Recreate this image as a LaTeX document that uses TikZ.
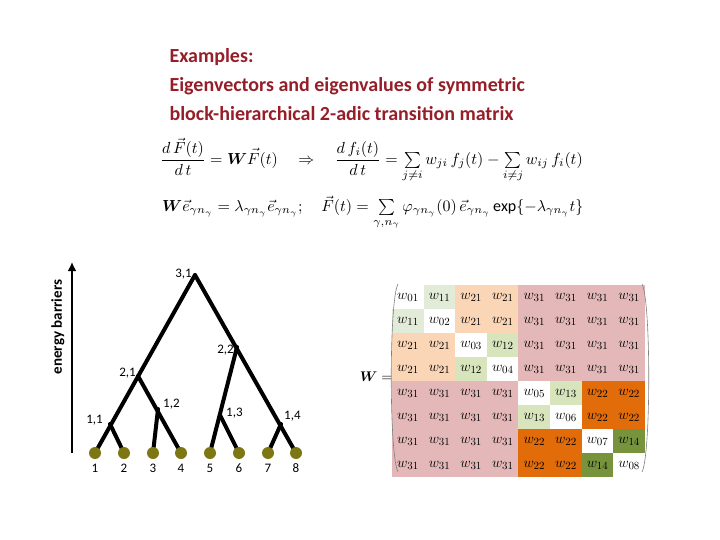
\documentclass[tikz,border=0pt]{standalone}
\usepackage{fontspec}
\setmainfont{Carlito}
\newfontfamily\serifm{Liberation Serif}
\usepackage{amsmath}
\usetikzlibrary{calc,arrows.meta}
\begin{document}
\begin{tikzpicture}[x=1pt,y=-1pt,
 br/.style={line width=4pt,line cap=round},
 leaf/.style={circle,fill=olive!85!black,minimum size=12pt,inner sep=0pt},
 lab/.style={font=\fontsize{13}{13}\selectfont,inner sep=1pt},
 ttlst/.style={anchor=west,text=ttl,font=\bfseries\fontsize{20}{20}\selectfont},
 cell/.style={minimum width=29pt,minimum height=22pt,inner sep=0pt,font=\serifm\fontsize{15}{15}\selectfont}]
\useasboundingbox (0,0) rectangle (720,540);
\definecolor{ttl}{RGB}{150,30,40}
\definecolor{lg}{RGB}{226,234,216}
\definecolor{pe}{RGB}{250,213,182}
\definecolor{pk}{RGB}{228,184,184}
\definecolor{mg}{RGB}{215,228,188}
\definecolor{og}{RGB}{226,107,10}
\definecolor{dg}{RGB}{119,147,60}
\node[ttlst] (t1) at (166,57) {Examples:};
\node[ttlst] (t2) at (166,86) {Eigenvectors and eigenvalues of symmetric};
\node[ttlst] (t3) at (166,114) {block-hierarchical 2-adic transition matrix};
\node[anchor=west,inner sep=0pt] (e1) at (160,160) {\scalebox{1.6}{$\dfrac{d\,\vec F(t)}{d\,t}=\boldsymbol{W}\vec F(t)\quad\Rightarrow\quad\dfrac{d\,f_i(t)}{d\,t}=\sum\limits_{j\neq i}w_{ji}\,f_j(t)-\sum\limits_{i\neq j}w_{ij}\,f_i(t)$}};
\node[anchor=west,inner sep=0pt] (e2) at (162,213) {\scalebox{1.6}{$\boldsymbol{W}\vec e_{\gamma n_\gamma}=\lambda_{\gamma n_\gamma}\vec e_{\gamma n_\gamma};\quad \vec F(t)=\sum\limits_{\gamma,n_\gamma}\varphi_{\gamma n_\gamma}(0)\,\vec e_{\gamma n_\gamma}\exp\{-\lambda_{\gamma n_\gamma}t\}$}};
% tree
\coordinate (r) at (195,275);
\coordinate (a21) at (138,376);
\coordinate (a22) at (237,347);
\coordinate (a11) at (110,424);
\coordinate (a12) at (158,409);
\coordinate (a13) at (220,415);
\coordinate (a14) at (281,424);
\foreach \i/\x in {1/95,2/124,3/153,4/181,5/210,6/239,7/268,8/296}{
 \coordinate (l\i) at (\x,453);
}
\draw[br] (r) -- (l1);
\draw[br] (r) -- (l8);
\draw[br] (a21) -- (l4);
\draw[br] (a11) -- (l2);
\draw[br] (a12) -- (l3);
\draw[br] (a22) -- (l5);
\draw[br] (a13) -- (l6);
\draw[br] (a14) -- (l7);
\foreach \i in {1,...,8}{
 \node[leaf] (n\i) at (l\i) {};
 \node[lab] (t\i) at ($(l\i)+(0,15)$) {\i};
}
\node[lab,anchor=east] (L31) at (193,274) {3,1};
\node[lab,anchor=east] (L22) at (235,350) {2,2};
\node[lab,anchor=east] (L21) at (137,373) {2,1};
\node[lab,anchor=east] (L11) at (104,420) {1,1};
\node[lab,anchor=west] (L12) at (162,404) {1,2};
\node[lab,anchor=west] (L13) at (225,413) {1,3};
\node[lab,anchor=west] (L14) at (283,416) {1,4};
\coordinate (ab) at (72,453);
\coordinate (at) at (72,262);
\draw[line width=2.5pt,-{Latex[length=9pt,width=9pt]}] (ab) -- (at);
\node[rotate=90,font=\bfseries\fontsize{15}{15}\selectfont] (eb) at (58,327) {energy barriers};
% matrix
\foreach \r/\c/\col/\t in {
1/1/white/01,1/2/lg/11,1/3/pe/21,1/4/pe/21,1/5/pk/31,1/6/pk/31,1/7/pk/31,1/8/pk/31,
2/1/lg/11,2/2/white/02,2/3/pe/21,2/4/pe/21,2/5/pk/31,2/6/pk/31,2/7/pk/31,2/8/pk/31,
3/1/pe/21,3/2/pe/21,3/3/white/03,3/4/mg/12,3/5/pk/31,3/6/pk/31,3/7/pk/31,3/8/pk/31,
4/1/pe/21,4/2/pe/21,4/3/mg/12,4/4/white/04,4/5/pk/31,4/6/pk/31,4/7/pk/31,4/8/pk/31,
5/1/pk/31,5/2/pk/31,5/3/pk/31,5/4/pk/31,5/5/white/05,5/6/mg/13,5/7/og/22,5/8/og/22,
6/1/pk/31,6/2/pk/31,6/3/pk/31,6/4/pk/31,6/5/mg/13,6/6/white/06,6/7/og/22,6/8/og/22,
7/1/pk/31,7/2/pk/31,7/3/pk/31,7/4/pk/31,7/5/og/22,7/6/og/22,7/7/white/07,7/8/dg/14,
8/1/pk/31,8/2/pk/31,8/3/pk/31,8/4/pk/31,8/5/og/22,8/6/og/22,8/7/dg/14,8/8/white/08}{
 \fill[\col] ({408+31.6*(\c-1)-16},{297+24*(\r-1)-12}) rectangle ++(32,24);
 \node[cell] (m\r\c) at ({408+31.6*(\c-1)},{297+24*(\r-1)}) {$w_{\t}$};
}
\node (W) at (376,377) {\scalebox{1.4}{$\boldsymbol{W}=$}};
\draw[line width=0.6pt,gray] (398,284) .. controls (389,300) and (389,455) .. (398,472);
\draw[line width=0.6pt,gray] (642,284) .. controls (651,300) and (651,455) .. (642,472);
\end{tikzpicture}
\end{document}
